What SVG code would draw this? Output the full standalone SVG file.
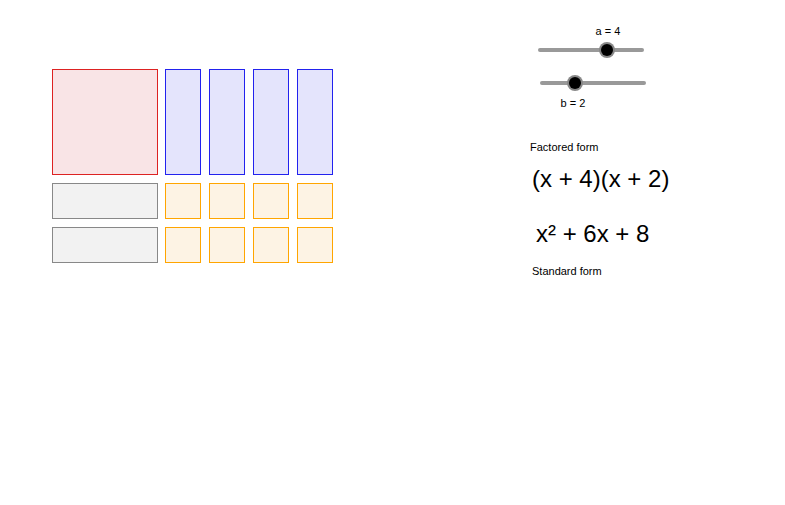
<svg xmlns="http://www.w3.org/2000/svg" width="785" height="505" viewBox="0 0 785 505">
<style>
.t{font-family:"Liberation Sans",Arial,sans-serif;fill:#000}
.sq{fill:#f9e4e6;stroke:#dd2222;stroke-width:1}
.bl{fill:#e4e4fc;stroke:#2222ee;stroke-width:1}
.gr{fill:#f2f2f2;stroke:#888;stroke-width:1}
.or{fill:#fdf3e4;stroke:#ffa500;stroke-width:1}
.track{stroke:#999;stroke-width:4;stroke-linecap:round}
</style>
<rect width="785" height="505" fill="#fff"/>
<g id="tiles">
<rect class="sq" x="52.5" y="69.5" width="105" height="105"/>
<rect class="bl" x="165.5" y="69.5" width="35" height="105"/>
<rect class="bl" x="209.5" y="69.5" width="35" height="105"/>
<rect class="bl" x="253.5" y="69.5" width="35" height="105"/>
<rect class="bl" x="297.5" y="69.5" width="35" height="105"/>
<rect class="gr" x="52.5" y="183.5" width="105" height="35"/>
<rect class="gr" x="52.5" y="227.5" width="105" height="35"/>
<rect class="or" x="165.5" y="183.5" width="35" height="35"/>
<rect class="or" x="209.5" y="183.5" width="35" height="35"/>
<rect class="or" x="253.5" y="183.5" width="35" height="35"/>
<rect class="or" x="297.5" y="183.5" width="35" height="35"/>
<rect class="or" x="165.5" y="227.5" width="35" height="35"/>
<rect class="or" x="209.5" y="227.5" width="35" height="35"/>
<rect class="or" x="253.5" y="227.5" width="35" height="35"/>
<rect class="or" x="297.5" y="227.5" width="35" height="35"/>
</g>
<g id="sliderA">
<line class="track" x1="540" y1="50" x2="642" y2="50"/>
<circle cx="607" cy="50" r="8" fill="#888"/>
<circle cx="607" cy="50" r="6" fill="#000"/>
<text class="t" x="608" y="35" font-size="11" text-anchor="middle">a = 4</text>
</g>
<g id="sliderB">
<line class="track" x1="542" y1="83" x2="644" y2="83"/>
<circle cx="575" cy="83" r="8" fill="#888"/>
<circle cx="575" cy="83" r="6" fill="#000"/>
<text class="t" x="573" y="107" font-size="11" text-anchor="middle">b = 2</text>
</g>
<g id="labels">
<text class="t" x="530" y="151" font-size="11">Factored form</text>
<text class="t" x="532" y="187" font-size="24">(x + 4)(x + 2)</text>
<text class="t" x="536" y="242" font-size="24">x² + 6x + 8</text>
<text class="t" x="532" y="275" font-size="11">Standard form</text>
</g>
</svg>
